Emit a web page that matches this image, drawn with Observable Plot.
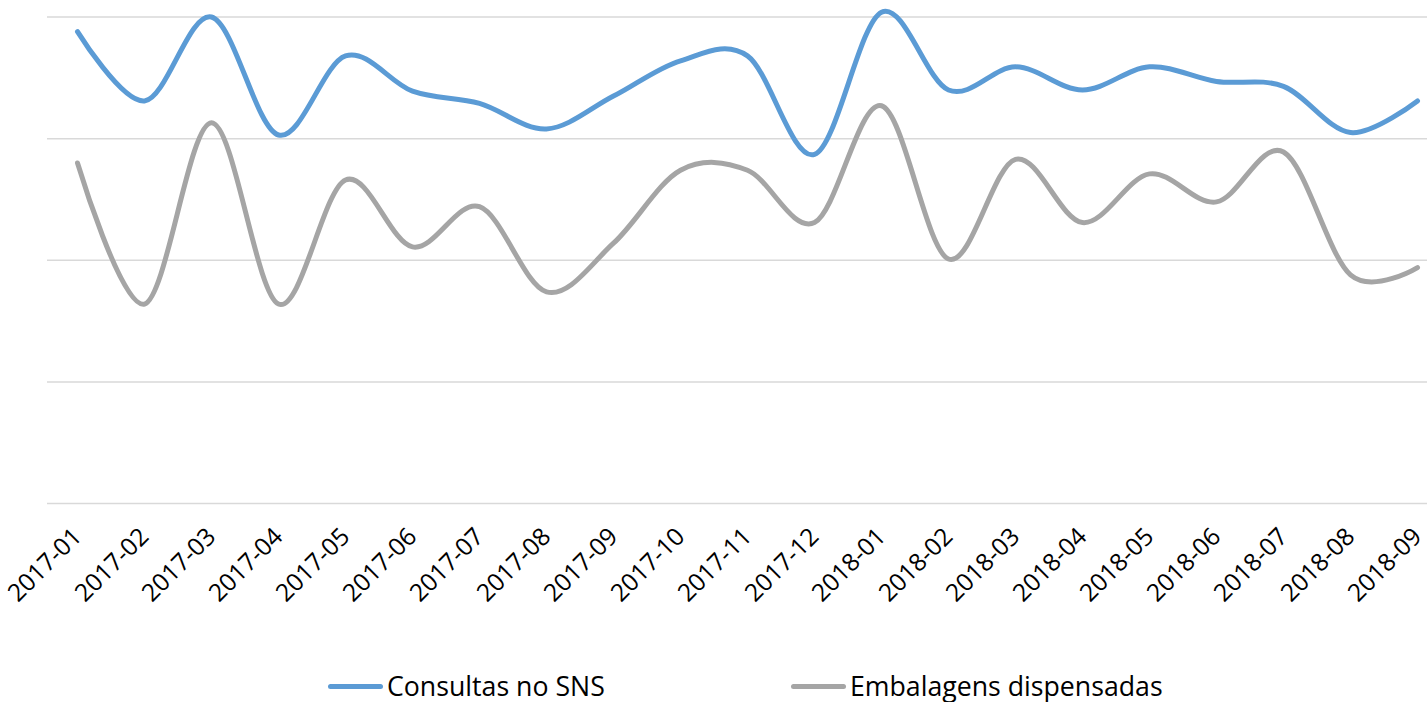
<!DOCTYPE html>
<html>
<head>
<meta charset="utf-8">
<script src="https://cdn.jsdelivr.net/npm/d3@7"></script>
<script src="https://cdn.jsdelivr.net/npm/@observablehq/plot@0.6"></script>
<style>
  html, body { margin: 0; padding: 0; background: #fff; overflow: hidden; }
  #chart { width: 1427px; }
  .legend { position: relative; height: 52px; font-family: "Open Sans", sans-serif; font-size: 26.7px; color: #000; }
  .legend .item { position: absolute; top: 22px; height: 28px; line-height: 28px; display: flex; align-items: center; white-space: nowrap; }
  .legend .swatch { width: 55px; height: 5px; border-radius: 3px; margin-right: 4px; }
</style>
</head>
<body>
<div id="chart"></div>
<script>
const months = ["2017-01","2017-02","2017-03","2017-04","2017-05","2017-06","2017-07","2017-08","2017-09","2017-10","2017-11","2017-12","2018-01","2018-02","2018-03","2018-04","2018-05","2018-06","2018-07","2018-08","2018-09"];
const consultas = [3.88,3.31,4.00,3.03,3.68,3.39,3.29,3.08,3.35,3.64,3.68,2.87,4.04,3.40,3.59,3.40,3.59,3.47,3.43,3.05,3.31];
const embalagens = [2.80,1.64,3.13,1.64,2.66,2.11,2.44,1.74,2.14,2.74,2.74,2.31,3.27,2.01,2.83,2.31,2.71,2.48,2.89,1.88,1.94];
const seriesNames = ["Consultas no SNS", "Embalagens dispensadas"];
const seriesColors = ["#5B9BD5", "#A5A5A5"];
const yTicks = [0, 1, 2, 3, 4];

const rows = [];
months.forEach((m, i) => {
  rows.push({month: m, value: consultas[i], series: seriesNames[0]});
  rows.push({month: m, value: embalagens[i], series: seriesNames[1]});
});

const chart = Plot.plot({
  width: 1427,
  height: 650,
  marginLeft: 47,
  marginRight: 0,
  marginTop: 16.5,
  marginBottom: 147,
  style: {fontFamily: "'Open Sans', sans-serif", fontSize: "24.5px", color: "#000", background: "#fff"},
  x: {type: "point", domain: months, padding: 0, insetLeft: 25, insetRight: 6, label: null, axis: null},
  y: {domain: [0, 4], label: null, axis: null},
  color: {domain: seriesNames, range: seriesColors},
  marks: [
    Plot.gridY(yTicks, {stroke: "#D9D9D9", strokeOpacity: 1, strokeWidth: 1.5}),
    Plot.axisX({tickSize: 0, tickPadding: 29, dx: 0, tickRotate: -45, label: null, fontSize: 24.5}),
    Plot.line(rows, {x: "month", y: "value", z: "series", stroke: "series", strokeWidth: 5, curve: "cardinal", strokeLinecap: "round", strokeLinejoin: "round"})
  ]
});
document.getElementById("chart").appendChild(chart);

const legend = document.createElement("div");
legend.className = "legend";
const lefts = [328, 791];
seriesNames.forEach((name, i) => {
  const item = document.createElement("div");
  item.className = "item";
  item.style.left = lefts[i] + "px";
  const sw = document.createElement("span");
  sw.className = "swatch";
  sw.style.background = seriesColors[i];
  const t = document.createElement("span");
  t.textContent = name;
  item.appendChild(sw);
  item.appendChild(t);
  legend.appendChild(item);
});
document.getElementById("chart").appendChild(legend);
</script>
</body>
</html>
